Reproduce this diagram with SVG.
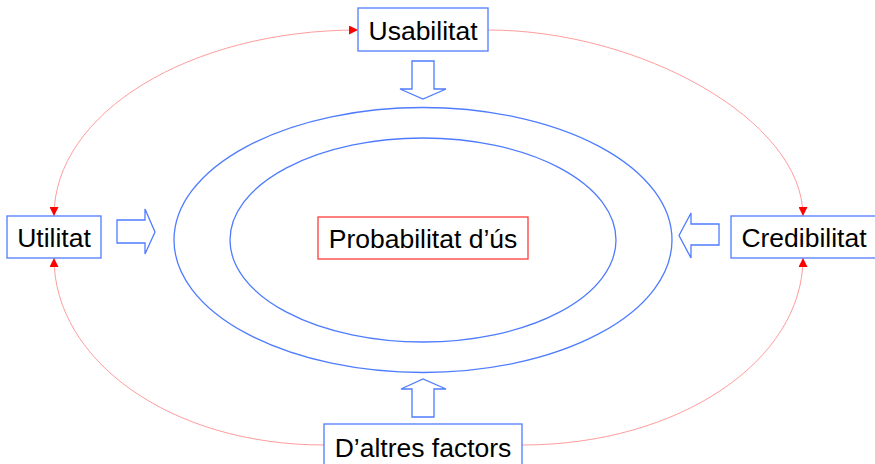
<svg xmlns="http://www.w3.org/2000/svg" width="875" height="464" viewBox="0 0 875 464">
  <defs>
    <marker id="arr" viewBox="0 0 10 10" refX="10" refY="5" markerWidth="9" markerHeight="9" markerUnits="userSpaceOnUse" orient="auto-start-reverse">
      <path d="M0,0 L10,5 L0,10 Z" fill="#ff0000"/>
    </marker>
    <style>
      .box { fill: #ffffff; stroke: #4f7cff; stroke-width: 1.3; }
      .main { fill: #ffffff; stroke: #ff3b3b; stroke-width: 1.3; }
      .ell { fill: none; stroke: #4f7cff; stroke-width: 1.3; }
      .blk { fill: #ffffff; stroke: #4f7cff; stroke-width: 1.3; stroke-linejoin: miter; }
      .link { fill: none; stroke: #ff9c9c; stroke-width: 1; }
      text { font-family: "Liberation Sans", Arial, sans-serif; font-size: 26.5px; fill: #000000; text-anchor: middle; }
    </style>
  </defs>

  <g id="rings">
    <ellipse class="ell" cx="423" cy="240" rx="249" ry="132.5"/>
    <ellipse class="ell" cx="423" cy="240" rx="193" ry="102"/>
  </g>

  <g id="block-arrows">
    <polygon class="blk" points="412,61 434,61 434,89 446,89 423,99 400,89 412,89"/>
    <polygon class="blk" points="412,417 434,417 434,389 446,389 423,379 401,389 412,389"/>
    <polygon class="blk" points="117,220 145,220 145,209 155,232 145,254 145,243 117,243"/>
    <polygon class="blk" points="719,224 691,224 691,213 679,235.5 691,258 691,245 719,245"/>
  </g>

  <g id="connectors">
    <path class="link" d="M54,216 C54,113 190,30 358,30" marker-start="url(#arr)" marker-end="url(#arr)"/>
    <path class="link" d="M488,30 C640,30 803,120 803,216" marker-end="url(#arr)"/>
    <path class="link" d="M324,445 C170,445 54,360 54,258" marker-end="url(#arr)"/>
    <path class="link" d="M522,445 C680,445 803,360 803,258" marker-end="url(#arr)"/>
  </g>

  <g id="usabilitat">
    <rect class="box" x="358" y="8" width="130" height="43"/>
    <text x="423" y="40">Usabilitat</text>
  </g>

  <g id="utilitat">
    <rect class="box" x="7" y="216" width="94" height="42"/>
    <text x="54" y="247">Utilitat</text>
  </g>

  <g id="credibilitat">
    <rect class="box" x="731" y="216" width="147" height="42"/>
    <text x="804" y="247">Credibilitat</text>
  </g>

  <g id="daltres">
    <rect class="box" x="324" y="424" width="198" height="45"/>
    <text x="423" y="457">D’altres factors</text>
  </g>

  <g id="probabilitat">
    <rect class="main" x="318" y="217" width="210" height="42"/>
    <text x="423" y="248">Probabilitat d’ús</text>
  </g>
</svg>
